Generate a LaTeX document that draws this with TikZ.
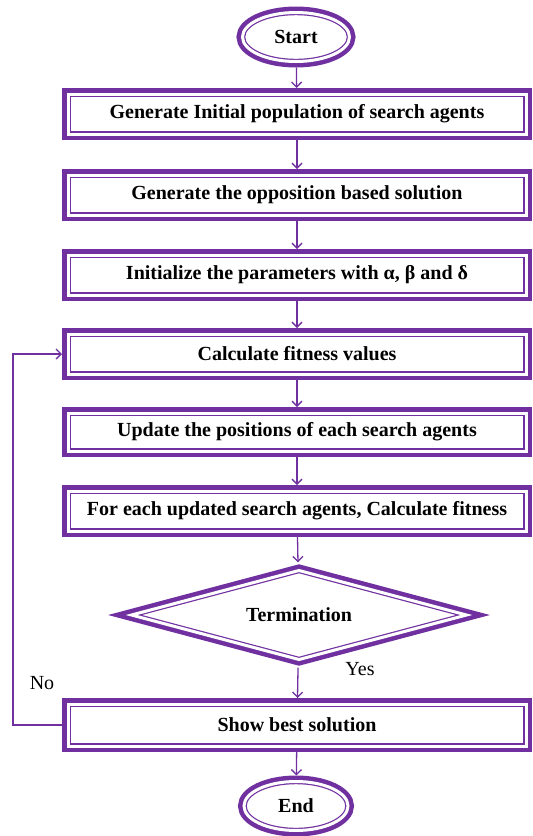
\documentclass[tikz,border=0pt]{standalone}
\usepackage{fontspec}
\setmainfont{Liberation Serif}
\usetikzlibrary{shapes.geometric,arrows.meta}
\definecolor{flowpurple}{HTML}{7030A0}
\tikzset{
	frame/.style={preaction={draw=flowpurple, line width=12pt}, preaction={fill=white},
		draw=flowpurple, double=white, line width=1.2pt, double distance=3pt,
		outer sep=6pt, inner sep=0pt, font=\bfseries\fontsize{20}{22}\selectfont},
	stepbox/.style={frame, rectangle, minimum width=458pt, minimum height=40pt},
	endbox/.style={frame, ellipse, minimum width=#1, minimum height=49pt},
	testbox/.style={frame, diamond, aspect=3.5, minimum width=340pt, minimum height=94pt},
	flow/.style={draw=flowpurple, line width=1.3pt, -{Straight Barb[length=5pt, width=10pt]}},
	note/.style={font=\fontsize{20}{22}\selectfont, inner sep=0pt}
}

\begin{document}
\begin{tikzpicture}[x=1pt, y=-1pt]
			%%%%% START %%%%%
			\useasboundingbox (0, 0) rectangle (533, 836);
			
			\node[endbox=107pt] (start) at (296, 37) {Start};
			\node[stepbox] (b1) at (297, 114) {Generate Initial population of search agents};
			\node[stepbox] (b2) at (297, 195) {Generate the opposition based solution};
			\node[stepbox] (b3) at (297, 275) {Initialize the parameters with α, β and δ};
			\node[stepbox] (b4) at (297, 354) {Calculate fitness values};
			\node[stepbox, minimum height=38pt] (b5) at (297, 432) {Update the positions of each search agents};
			\node[stepbox] (b6) at (297, 511) {For each updated search agents, Calculate fitness};
			\node[testbox] (term) at (299, 615) {Termination};
			\node[stepbox, minimum height=42pt] (b7) at (297, 725) {Show best solution};
			\node[endbox=104pt] (end) at (296, 806) {End};
			
			\node[note] (yes) at (360, 669) {Yes};
			\node[note] (no) at (42, 683) {No};
			
			\draw[flow] (start) -- (b1);
			\draw[flow] (b1) -- (b2);
			\draw[flow] (b2) -- (b3);
			\draw[flow] (b3) -- (b4);
			\draw[flow] (b4) -- (b5);
			\draw[flow] (b5) -- (b6);
			\draw[flow] (b6) -- (term);
			\draw[flow] (term) -- (b7);
			\draw[flow] (b7) -- (end);
			
			% back to fitness
			\draw[flow] (b7.west) -- ++(-49, 0) |- (b4.west);
			%%%%% END %%%%%
\end{tikzpicture}
\end{document}
